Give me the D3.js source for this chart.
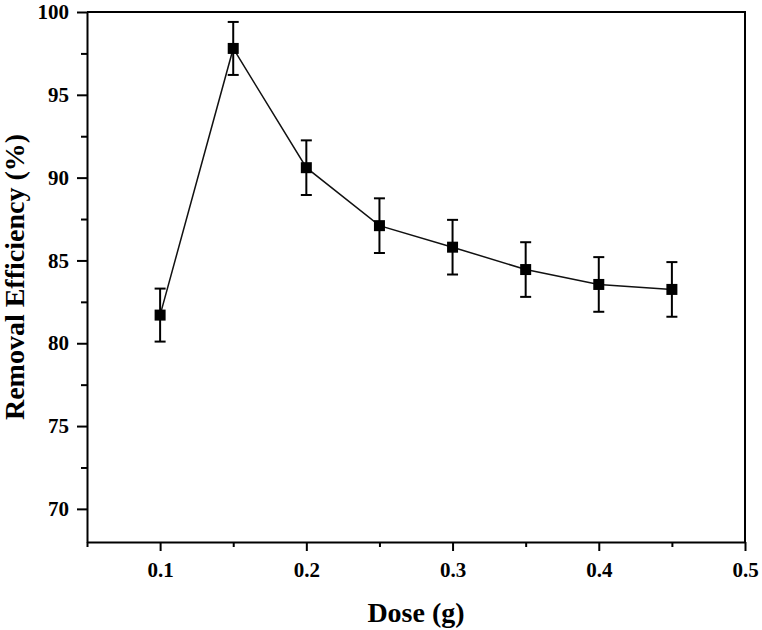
<!DOCTYPE html>
<html>
<head>
<meta charset="utf-8">
<script src="https://cdn.jsdelivr.net/npm/d3@7"></script>
<style>
  body { margin: 0; background: #fff; }
  svg { display: block; font-family: "Liberation Serif", "Times New Roman", serif; }
</style>
</head>
<body>
<svg id="chart" width="762" height="630"></svg>
<script>
// data
const dose = [0.1, 0.15, 0.2, 0.25, 0.3, 0.35, 0.4, 0.45];
const efficiency = [81.7, 97.8, 90.6, 87.1, 85.8, 84.45, 83.55, 83.25];
const errors = [1.6, 1.6, 1.65, 1.65, 1.65, 1.65, 1.65, 1.65];
const xTicks = [0.1, 0.2, 0.3, 0.4, 0.5];
const xMinor = [0.05, 0.15, 0.25, 0.35, 0.45];
const yTicks = [70, 75, 80, 85, 90, 95, 100];
const yMinor = [72.5, 77.5, 82.5, 87.5, 92.5, 97.5];

const margin = { top: 12, right: 17, bottom: 88, left: 87 };
const width = 762, height = 630;

const svg = d3.select('#chart');

const xScale = d3.scaleLinear()
    .domain([0.05, 0.5])
    .range([margin.left, width - margin.right]);

const yScale = d3.scaleLinear()
    .domain([68, 100])
    .range([height - margin.bottom, margin.top]);

// minor ticks first, majors drawn over them
svg.append('g')
    .attr('class', 'x-minor')
    .attr('transform', `translate(0,${height - margin.bottom})`)
    .call(d3.axisBottom(xScale).tickValues(xMinor).tickSize(5).tickFormat(''))
    .call(g => g.select('.domain').remove());

svg.append('g')
    .attr('class', 'y-minor')
    .attr('transform', `translate(${margin.left},0)`)
    .call(d3.axisLeft(yScale).tickValues(yMinor).tickSize(6).tickFormat(''))
    .call(g => g.select('.domain').remove());

const xAxis = d3.axisBottom(xScale)
    .tickValues(xTicks)
    .tickSize(9)
    .tickSizeOuter(0)
    .tickPadding(11)
    .tickFormat(d3.format('.1f'));

const yAxis = d3.axisLeft(yScale)
    .tickValues(yTicks)
    .tickSize(10)
    .tickSizeOuter(0)
    .tickPadding(8);

svg.append('g')
    .attr('class', 'x-axis')
    .attr('transform', `translate(0,${height - margin.bottom})`)
    .call(xAxis);

svg.append('g')
    .attr('class', 'y-axis')
    .attr('transform', `translate(${margin.left},0)`)
    .call(yAxis);

svg.selectAll('.tick text')
    .attr('font-size', '21px')
    .attr('font-weight', 'bold')
    .attr('font-family', '"Liberation Serif", serif')
    .attr('fill', '#000');

svg.selectAll('.domain, .tick line')
    .attr('stroke', '#000')
    .attr('stroke-width', 2);

// frame: top and right
svg.append('path')
    .attr('d', `M${xScale(0.05)},${yScale(100)}H${xScale(0.5)}V${yScale(68)}`)
    .attr('fill', 'none')
    .attr('stroke', '#000')
    .attr('stroke-width', 2);

// connecting line
const line = d3.line()
    .x((d, i) => xScale(dose[i]))
    .y(d => yScale(d));

svg.append('path')
    .datum(efficiency)
    .attr('fill', 'none')
    .attr('stroke', '#111')
    .attr('stroke-width', 1.5)
    .attr('d', line);

// error bars
const capW = 11;
const errG = svg.append('g')
    .attr('stroke', '#000')
    .attr('stroke-width', 2);

efficiency.forEach((v, i) => {
    const x = xScale(dose[i]);
    const y1 = yScale(v + errors[i]);
    const y2 = yScale(v - errors[i]);
    errG.append('line').attr('x1', x).attr('x2', x).attr('y1', y1).attr('y2', y2);
    errG.append('line').attr('x1', x - capW / 2).attr('x2', x + capW / 2).attr('y1', y1).attr('y2', y1);
    errG.append('line').attr('x1', x - capW / 2).attr('x2', x + capW / 2).attr('y1', y2).attr('y2', y2);
});

// square markers
const size = 11;
svg.selectAll('.marker')
    .data(efficiency)
    .enter()
    .append('rect')
    .attr('class', 'marker')
    .attr('x', (d, i) => xScale(dose[i]) - size / 2)
    .attr('y', d => yScale(d) - size / 2)
    .attr('width', size)
    .attr('height', size)
    .attr('fill', '#000');

// Labels

svg.append('text')
    .attr('text-anchor', 'middle')
    .attr('x', (xScale(0.05) + xScale(0.5)) / 2)
    .attr('y', 622)
    .attr('font-size', '28px')
    .attr('font-weight', 'bold')
    .text('Dose (g)');

svg.append('text')
    .attr('text-anchor', 'middle')
    .attr('transform', `translate(24,${(yScale(68) + yScale(100)) / 2}) rotate(-90)`)
    .attr('font-size', '28px')
    .attr('font-weight', 'bold')
    .text('Removal Efficiency (%)');
</script>
</body>
</html>
